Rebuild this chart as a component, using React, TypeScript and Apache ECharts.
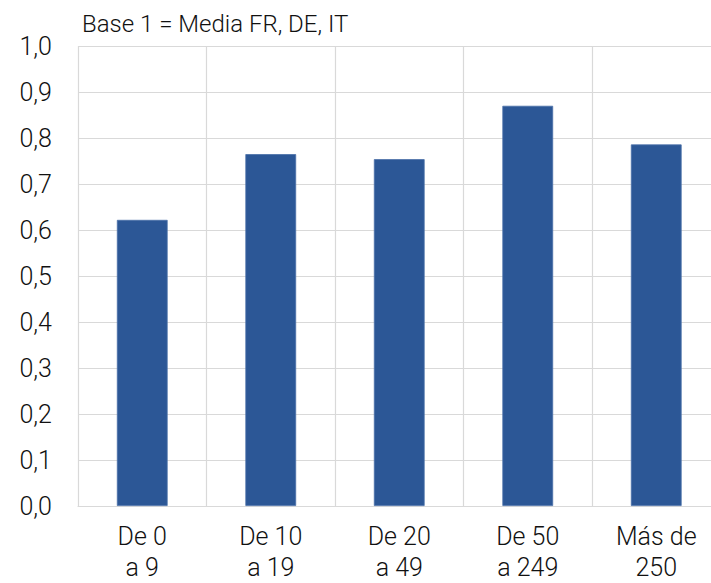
import React, { useEffect, useRef } from "react";
import * as echarts from "echarts";

const categories = ["De 0\na 9", "De 10\na 19", "De 20\na 49", "De 50\na 249", "Más de\n250"];
const values = [0.622, 0.765, 0.754, 0.87, 0.786];
const title = "Base 1 = Media FR, DE, IT";

export default function App() {
  const ref = useRef<HTMLDivElement>(null);
  useEffect(() => {
    const chart = echarts.init(ref.current!, null, { renderer: "svg" });
    const font = "Roboto, 'Liberation Sans', sans-serif";
    chart.setOption({
      animation: false,
      title: {
        text: title,
        left: 77,
        top: 7,
        textStyle: { fontFamily: font, fontWeight: 300, fontSize: 24, color: "#111" },
      },
      grid: {
        left: 78,
        top: 46,
        width: 642.5,
        height: 460,
        containLabel: false,
        outerBoundsMode: "none",
      },
      xAxis: {
        type: "category",
        data: categories,
        axisLine: { lineStyle: { color: "#d9d9d9", width: 1.2 } },
        axisTick: { show: false },
        splitLine: { show: true, lineStyle: { color: "#d9d9d9", width: 1.2 } },
        axisLabel: {
          fontFamily: font,
          fontWeight: 300,
          fontSize: 25,
          color: "#111",
          lineHeight: 31,
          margin: 15,
          interval: 0,
        },
      },
      yAxis: {
        type: "value",
        min: 0,
        max: 1,
        interval: 0.1,
        axisLine: { show: false },
        axisTick: { show: false },
        splitLine: { lineStyle: { color: "#d9d9d9", width: 1.2 } },
        axisLabel: {
          fontFamily: font,
          fontWeight: 300,
          fontSize: 25,
          color: "#111",
          margin: 26,
          formatter: (v: number) => v.toFixed(1).replace(".", ","),
        },
      },
      series: [
        {
          type: "bar",
          data: values,
          barWidth: "39.5%",
          itemStyle: { color: "#2C5796", borderColor: "#4A70A8", borderWidth: 0.8 },
        },
      ],
    });
    return () => chart.dispose();
  }, []);
  return (
    <div style={{ position: "absolute", left: 0, top: 0, width: 711, height: 583, overflow: "hidden" }}>
      <div ref={ref} style={{ width: 711, height: 583 }} />
    </div>
  );
}
